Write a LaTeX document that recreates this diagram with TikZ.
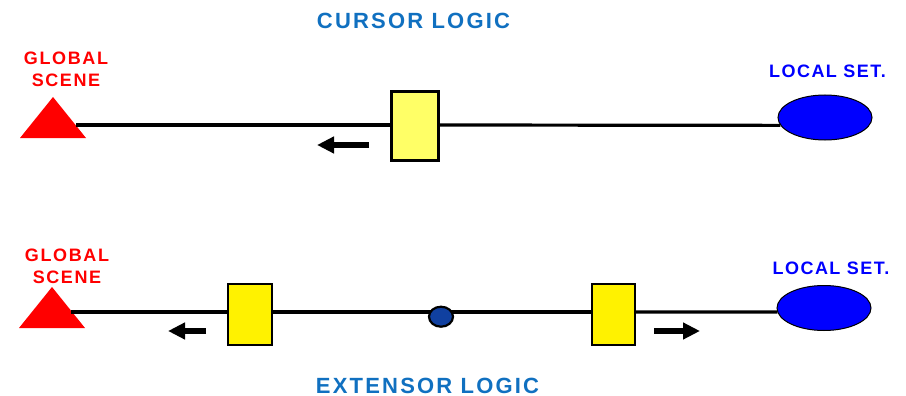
\documentclass[tikz,border=0pt]{standalone}
\usepackage{fontspec}
\setmainfont{Liberation Sans}
\usetikzlibrary{arrows.meta,shapes.geometric}
\definecolor{titleblue}{RGB}{16,112,192}
\definecolor{setblue}{RGB}{0,0,255}
\definecolor{dotblue}{RGB}{16,64,160}
\definecolor{paleyellow}{RGB}{255,255,102}
\tikzset{
  title/.style={font=\fontsize{22}{26}\selectfont\bfseries\addfontfeatures{LetterSpace=10},text=titleblue},
  scene/.style={font=\fontsize{18}{22.5}\selectfont\bfseries\addfontfeatures{LetterSpace=9},text=red,align=center},
  setlabel/.style={font=\fontsize{18}{22}\selectfont\bfseries\addfontfeatures{LetterSpace=8},text=setblue},
  slider/.style={draw,line width=2.4pt,fill=yellow,inner sep=0pt},
  localset/.style={ellipse,draw,line width=1pt,fill=setblue,minimum width=94pt,minimum height=45pt,inner sep=0pt},
  wire/.style={line width=3.2pt},
  move/.style={line width=5.5pt,-{Triangle[length=17pt,width=16pt]}}
}
\def\GS#1#2{\fill [red] (#1,#2) -- ++(33,-41) -- ++(33,41) -- cycle;}
\begin{document}
\begin{tikzpicture}[x=1pt,y=-1pt]
  \useasboundingbox (0,0) rectangle (906,396);
  \node [title] (curlogic) at (413.5,21) {CURSOR LOGIC};
  \node [title] (extlogic) at (427.5,385.5) {EXTENSOR LOGIC};
  \GS{20}{138} \GS{19}{328}
  \node [scene] (gsA) at (66,69.5) {GLOBAL\\SCENE};
  \node [scene] (gsB) at (67,266.5) {GLOBAL\\SCENE};
  \node [setlabel] (setA) at (827.5,71) {LOCAL SET.};
  \node [setlabel] (setB) at (831,268) {LOCAL SET.};
  \coordinate (tA) at (76,125);
  \coordinate (tB) at (71,312);
  \node [slider,fill=paleyellow,minimum width=47pt,minimum height=69pt] (cur) at (415,126) {};
  \node [slider,minimum width=44pt,minimum height=61pt] (lext) at (250,314.5) {};
  \node [slider,minimum width=43pt,minimum height=61pt] (rext) at (613.3,314.5) {};
  \node [localset] (lsA) at (825,117.5) {};
  \node [localset] (lsB) at (824,308) {};
  \draw [wire] (tA) -- (cur.west |- tA);
  \draw [wire] (cur.east |- tA) -- (lsA.190);
  \draw [wire] (tB) -- (lext.west |- tB);
  \draw [wire] (lext.east |- tB) -- (rext.west |- tB);
  \draw [wire] (rext.east |- tB) -- (lsB.185);
  \node [ellipse,draw,line width=2.2pt,fill=dotblue,minimum width=24pt,minimum height=20pt,inner sep=0pt] (dot) at (441,316.7) {};
  \coordinate (aA) at (369,145); \coordinate (bA) at (317,145);
  \coordinate (aL) at (206,331); \coordinate (bL) at (168,331);
  \coordinate (aR) at (654,331); \coordinate (bR) at (700,331);
  \draw [move] (aA) -- (bA);
  \draw [move] (aL) -- (bL);
  \draw [move] (aR) -- (bR);
\end{tikzpicture}
\end{document}
